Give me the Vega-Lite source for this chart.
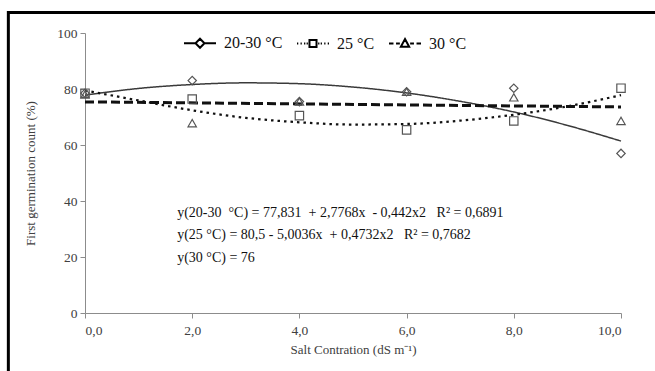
{
  "$schema": "https://vega.github.io/schema/vega-lite/v6.json",
  "width": 536,
  "height": 280,
  "autosize": "none",
  "padding": {"left": 85, "top": 33, "right": 34, "bottom": 58},
  "background": "white",
  "config": {
    "view": {"stroke": null},
    "font": "Liberation Serif",
    "axis": {
      "grid": false,
      "domainColor": "#8c8c8c",
      "tickColor": "#8c8c8c",
      "labelColor": "#404040",
      "labelFont": "Liberation Serif",
      "labelFontSize": 13.5,
      "titleFont": "Liberation Serif",
      "titleFontSize": 13,
      "titleFontWeight": "normal",
      "titleColor": "#404040",
      "tickSize": 5
    },
    "legend": {"labelFont": "Liberation Serif"}
  },
  "datasets": {
    "obs": [
      {"x": 0, "y": 78.5, "s": "20-30 °C"}, {"x": 2, "y": 83, "s": "20-30 °C"}, {"x": 4, "y": 75.5, "s": "20-30 °C"},
      {"x": 6, "y": 79, "s": "20-30 °C"}, {"x": 8, "y": 80.3, "s": "20-30 °C"}, {"x": 10, "y": 57, "s": "20-30 °C"},
      {"x": 0, "y": 78.5, "s": "25 °C"}, {"x": 2, "y": 76.4, "s": "25 °C"}, {"x": 4, "y": 70.5, "s": "25 °C"},
      {"x": 6, "y": 65.4, "s": "25 °C"}, {"x": 8, "y": 68.6, "s": "25 °C"}, {"x": 10, "y": 80.3, "s": "25 °C"},
      {"x": 0, "y": 78, "s": "30 °C"}, {"x": 2, "y": 67.8, "s": "30 °C"}, {"x": 4, "y": 75.5, "s": "30 °C"},
      {"x": 6, "y": 79, "s": "30 °C"}, {"x": 8, "y": 77, "s": "30 °C"}, {"x": 10, "y": 68.6, "s": "30 °C"}
    ],
    "fit": [
      {"x": 0, "y": 77.8, "s": "20-30 °C"}, {"x": 1, "y": 80.2, "s": "20-30 °C"}, {"x": 2, "y": 81.6, "s": "20-30 °C"},
      {"x": 3, "y": 82.2, "s": "20-30 °C"}, {"x": 4, "y": 81.9, "s": "20-30 °C"}, {"x": 5, "y": 80.7, "s": "20-30 °C"},
      {"x": 6, "y": 78.6, "s": "20-30 °C"}, {"x": 7, "y": 75.6, "s": "20-30 °C"}, {"x": 8, "y": 71.8, "s": "20-30 °C"},
      {"x": 9, "y": 67.0, "s": "20-30 °C"}, {"x": 10, "y": 61.4, "s": "20-30 °C"},
      {"x": 0, "y": 79.5, "s": "25 °C"}, {"x": 1, "y": 75.9, "s": "25 °C"}, {"x": 2, "y": 72.4, "s": "25 °C"},
      {"x": 3, "y": 69.7, "s": "25 °C"}, {"x": 4, "y": 68.1, "s": "25 °C"}, {"x": 5, "y": 67.3, "s": "25 °C"},
      {"x": 6, "y": 67.5, "s": "25 °C"}, {"x": 7, "y": 68.7, "s": "25 °C"}, {"x": 8, "y": 70.8, "s": "25 °C"},
      {"x": 9, "y": 73.8, "s": "25 °C"}, {"x": 10, "y": 77.8, "s": "25 °C"},
      {"x": 0, "y": 75.4, "s": "30 °C"}, {"x": 10, "y": 73.6, "s": "30 °C"}
    ],
    "frame": [{"x1": -1.43, "x2": 13, "y1": 107.3, "y2": -40}],
    "eq": [
      {"x": 1.72, "y": 35.6, "t": "y(20-30 \u00a0°C) = 77,831 \u00a0+ 2,7768x \u00a0- 0,442x2 \u00a0\u00a0R² = 0,6891"},
      {"x": 1.72, "y": 28.0, "t": "y(25 °C) = 80,5 - 5,0036x \u00a0+ 0,4732x2 \u00a0\u00a0R² = 0,7682"},
      {"x": 1.72, "y": 19.8, "t": "y(30 °C) = 76"}
    ]
  },
  "layer": [
    {
      "data": {"name": "frame"},
      "mark": {"type": "rect", "fill": null, "stroke": "black", "strokeWidth": 3, "clip": false},
      "encoding": {
        "x": {"field": "x1", "type": "quantitative", "scale": {"domain": [0, 10], "nice": false, "zero": false}},
        "x2": {"field": "x2"},
        "y": {"field": "y1", "type": "quantitative", "scale": {"domain": [0, 100], "nice": false}},
        "y2": {"field": "y2"}
      }
    },
    {
      "data": {"name": "fit"},
      "mark": {"type": "line", "interpolate": "monotone", "color": "black"},
      "encoding": {
        "x": {"field": "x", "type": "quantitative", "scale": {"domain": [0, 10], "nice": false, "zero": false},
          "axis": {"values": [0, 2, 4, 6, 8, 10], "labelExpr": "replace(format(datum.value, '.1f'), '.', ',')", "title": "Salt Contration (dS m⁻¹)", "labelPadding": 5, "titlePadding": 7}},
        "y": {"field": "y", "type": "quantitative", "scale": {"domain": [0, 100], "nice": false},
          "axis": {"values": [0, 20, 40, 60, 80, 100], "title": "First germination count (%)", "labelPadding": 3, "titlePadding": 19}},
        "detail": {"field": "s"},
        "strokeDash": {"field": "s", "type": "nominal", "legend": null,
          "scale": {"domain": ["20-30 °C", "25 °C", "30 °C"], "range": [[1, 0], [2.5, 4], [9, 4]]}},
        "strokeWidth": {"field": "s", "type": "nominal", "legend": null,
          "scale": {"domain": ["20-30 °C", "25 °C", "30 °C"], "range": [1.5, 3, 3]}},
        "color": {"field": "s", "type": "nominal", "legend": null,
          "scale": {"domain": ["20-30 °C", "25 °C", "30 °C"], "range": ["#3a3a3a", "#111111", "#111111"]}}
      }
    },
    {
      "data": {"name": "obs"},
      "mark": {"type": "point", "filled": false, "size": 70, "strokeWidth": 1.2, "color": "#555555", "opacity": 1},
      "encoding": {
        "x": {"field": "x", "type": "quantitative"},
        "y": {"field": "y", "type": "quantitative"},
        "shape": {"field": "s", "type": "nominal", "legend": null,
          "scale": {"domain": ["20-30 °C", "25 °C", "30 °C"], "range": ["diamond", "square", "triangle-up"]}}
      }
    },
    {
      "data": {"name": "obs"},
      "transform": [{"filter": "datum.x > 1000"}],
      "mark": {"type": "point", "filled": false, "size": 1024, "strokeWidth": 2, "color": "black", "opacity": 1},
      "encoding": {
        "x": {"field": "x", "type": "quantitative"},
        "y": {"field": "y", "type": "quantitative"},
        "shape": {"field": "s", "type": "nominal",
          "scale": {"domain": ["20-30 °C", "25 °C", "30 °C"], "range": [
            "M-1,0L-0.28,0M0.28,0L1,0M0,-0.28L0.28,0L0,0.28L-0.28,0Z",
            "M-1,0L-0.92,0M-0.78,0L-0.7,0M-0.56,0L-0.48,0M-0.4,0L-0.32,0M0.32,0L0.4,0M0.48,0L0.56,0M0.7,0L0.78,0M0.92,0L1,0M-0.22,-0.22L0.22,-0.22L0.22,0.22L-0.22,0.22Z",
            "M-1,0L-0.72,0M-0.56,0L-0.32,0M0.32,0L0.56,0M0.72,0L1,0M0,-0.28L0.26,0.2L-0.26,0.2Z"
          ]},
          "legend": {"title": null, "orient": "none", "legendX": 98, "legendY": -7, "direction": "horizontal",
            "labelFontSize": 16, "labelColor": "#111111", "labelOffset": 7,
            "columnPadding": 10, "symbolStrokeColor": "black", "symbolStrokeWidth": 2, "symbolSize": 1024, "symbolFillColor": "transparent"}
        }
      }
    },
    {
      "data": {"name": "eq"},
      "mark": {"type": "text", "align": "left", "baseline": "middle", "font": "Liberation Serif", "fontSize": 14, "color": "#111111"},
      "encoding": {
        "x": {"field": "x", "type": "quantitative"},
        "y": {"field": "y", "type": "quantitative"},
        "text": {"field": "t"}
      }
    }
  ],
  "resolve": {"scale": {"shape": "independent"}, "legend": {"shape": "independent"}}
}
